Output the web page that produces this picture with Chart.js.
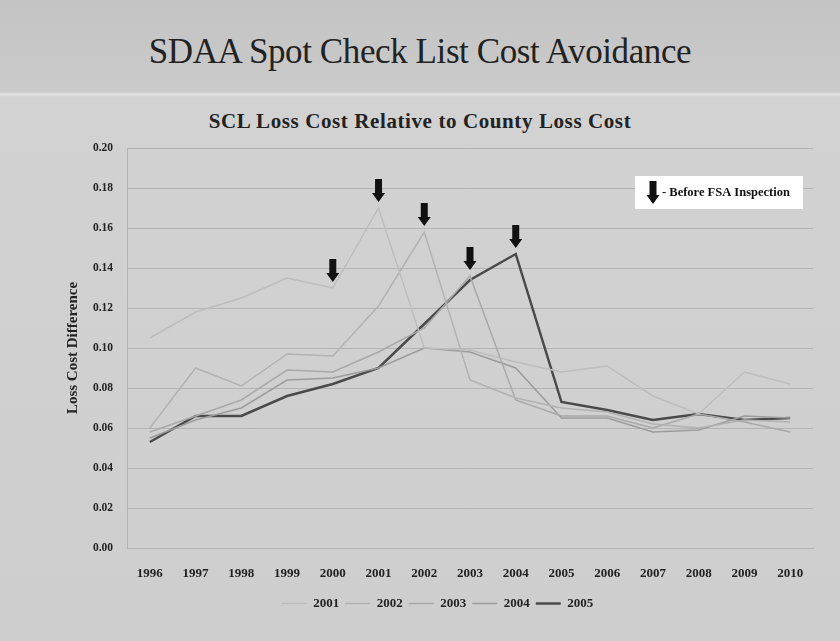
<!DOCTYPE html>
<html>
<head>
<meta charset="utf-8">
<script src="https://cdn.jsdelivr.net/npm/chart.js@4"></script>
<style>
  html, body { margin: 0; padding: 0; }
  body { width: 840px; height: 641px; position: relative; overflow: hidden;
         background: linear-gradient(to bottom, #c4c4c4 0px, #cacaca 92px, #e2e2e2 94px, #d2d2d2 97px, #cecece 641px);
         font-family: 'Liberation Serif', serif; }
  #title { position: absolute; left: 0; top: 32px; width: 840px; text-align: center;
           font-size: 35px; color: #222; letter-spacing: -0.4px; }
  #sub { position: absolute; left: 0; top: 109px; width: 840px; text-align: center;
         font-size: 21px; font-weight: bold; color: #222; letter-spacing: 0.6px; }
  canvas { position: absolute; left: 0; top: 0; }
</style>
</head>
<body>
<div id="title">SDAA Spot Check List Cost Avoidance</div>
<div id="sub">SCL Loss Cost Relative to County Loss Cost</div>
<canvas id="grafico" width="840" height="641"></canvas>
<script>
const years = ['1996','1997','1998','1999','2000','2001','2002','2003','2004','2005','2006','2007','2008','2009','2010'];
const seriesNames = ['2001','2002','2003','2004','2005'];
const s2001 = [0.105, 0.118, 0.125, 0.135, 0.130, 0.170, 0.100, 0.099, 0.093, 0.088, 0.091, 0.076, 0.067, 0.088, 0.082];
const s2002 = [0.060, 0.090, 0.081, 0.097, 0.096, 0.121, 0.158, 0.084, 0.075, 0.070, 0.068, 0.062, 0.060, 0.064, 0.063];
const s2003 = [0.058, 0.066, 0.074, 0.089, 0.088, 0.098, 0.110, 0.136, 0.074, 0.066, 0.066, 0.060, 0.067, 0.063, 0.058];
const s2004 = [0.055, 0.064, 0.070, 0.084, 0.085, 0.090, 0.100, 0.098, 0.090, 0.065, 0.065, 0.058, 0.059, 0.066, 0.065];
const s2005 = [0.053, 0.066, 0.066, 0.076, 0.082, 0.090, 0.112, 0.134, 0.147, 0.073, 0.069, 0.064, 0.067, 0.064, 0.065];
const yTicks = [0, 0.02, 0.04, 0.06, 0.08, 0.10, 0.12, 0.14, 0.16, 0.18, 0.20];
// arrows "before FSA inspection": category + which series it sits on
const arrowYears = ['2000','2001','2002','2003','2004'];
const arrowSeries = [0, 0, 1, 2, 4];

const colores = ['#bdbdbd', '#b2b2b2', '#a9a9a9', '#9c9c9c', '#4a4a4a'];
const anchos = [1.5, 1.5, 1.5, 1.5, 2.5];
const todas = [s2001, s2002, s2003, s2004, s2005];

const flechas = {
    id: 'flechas',
    afterDatasetsDraw(chart) {
        const ctx = chart.ctx, x = chart.scales.x, y = chart.scales.y;
        const dibujar = (cx, tip) => {
            ctx.beginPath();
            ctx.moveTo(cx - 3.5, tip - 23);
            ctx.lineTo(cx + 3.5, tip - 23);
            ctx.lineTo(cx + 3.5, tip - 9);
            ctx.lineTo(cx + 6.5, tip - 9);
            ctx.lineTo(cx, tip);
            ctx.lineTo(cx - 6.5, tip - 9);
            ctx.lineTo(cx - 3.5, tip - 9);
            ctx.closePath();
            ctx.fill();
        };
        ctx.save();
        ctx.fillStyle = '#111';
        arrowYears.forEach((a, i) => {
            const idx = years.indexOf(a);
            const px = x.getPixelForValue(idx);
            const py = y.getPixelForValue(todas[arrowSeries[i]][idx]);
            dibujar(px, py - 6);
        });
        // leyenda de flecha
        ctx.fillStyle = '#ffffff';
        ctx.fillRect(635, 176, 168, 33);
        ctx.fillStyle = '#111';
        dibujar(653, 204);
        ctx.font = 'bold 12.5px "Liberation Serif"';
        ctx.textBaseline = 'middle';
        ctx.fillText('- Before FSA Inspection', 662, 193);
        ctx.restore();
    }
};

new Chart(document.getElementById('grafico').getContext('2d'), {
    type: 'line',
    data: {
        labels: years,
        datasets: seriesNames.map((n, i) => ({
            label: n,
            data: todas[i],
            borderColor: colores[i],
            backgroundColor: colores[i],
            borderWidth: anchos[i],
            pointRadius: 0,
            tension: 0
        }))
    },
    options: {
        responsive: false,
        animation: false,
        layout: { padding: { left: 62, right: 27, top: 148, bottom: 21 } },
        plugins: {
            legend: {
                position: 'bottom',
                labels: {
                    usePointStyle: true, pointStyle: 'line', pointStyleWidth: 25, padding: 6,
                    color: '#222', font: { family: 'Liberation Serif', size: 13, weight: 'bold' }
                }
            },
            tooltip: { enabled: false }
        },
        scales: {
            x: {
                offset: true,
                grid: { display: false, drawTicks: false },
                border: { display: true, color: '#b4b4b4' },
                ticks: { padding: 18, maxRotation: 0, color: '#222',
                         font: { family: 'Liberation Serif', size: 13, weight: 'bold' } },
                afterFit: s => { s.height = 43; }
            },
            y: {
                min: 0, max: 0.2,
                afterBuildTicks: s => { s.ticks = yTicks.map(v => ({ value: v })); },
                afterFit: s => { s.width = 65; },
                grid: { color: '#b4b4b4', drawTicks: false },
                border: { display: true, color: '#b4b4b4' },
                ticks: { padding: 14, color: '#222', callback: v => v.toFixed(2),
                         font: { family: 'Liberation Serif', size: 11.5, weight: 'bold' } },
                title: { display: true, text: 'Loss Cost Difference', color: '#222',
                         padding: { top: 2, bottom: 0 },
                         font: { family: 'Liberation Serif', size: 15, weight: 'bold' } }
            }
        }
    },
    plugins: [flechas]
});
</script>
</body>
</html>
